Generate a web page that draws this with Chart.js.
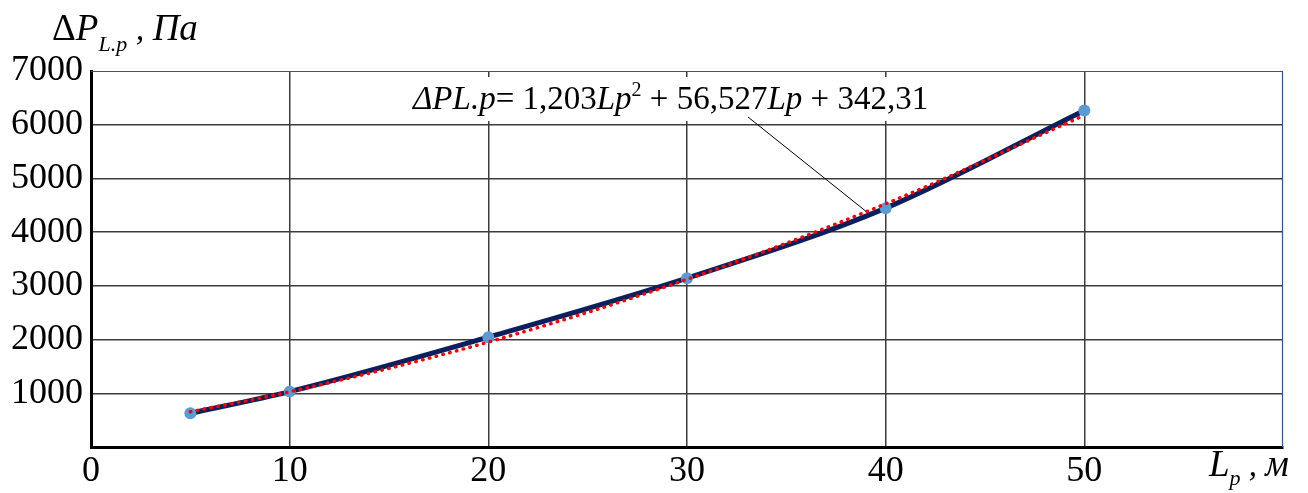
<!DOCTYPE html>
<html>
<head>
<meta charset="utf-8">
<script src="https://cdn.jsdelivr.net/npm/chart.js@4"></script>
<style>
  html, body { margin: 0; padding: 0; background: #fff; }
  canvas { display: block; }
</style>
</head>
<body>
<canvas id="chart" width="1308" height="493"></canvas>
<script>
// measured pressure loss vs. pipe length
const lengths = [5, 10, 20, 30, 40, 50];
const pressure = [628, 1031, 2044, 3143, 4447, 6266];
// polynomial trend values at the same lengths
const trend = [655, 1028, 1954, 3121, 4528, 6176];
const xTicks = [0, 10, 20, 30, 40, 50, 60];
const yTicks = [0, 1000, 2000, 3000, 4000, 5000, 6000, 7000];

const SERIF = '"Liberation Serif", "Times New Roman", serif';
const pts = arr => lengths.map((x, i) => ({ x, y: arr[i] }));

// draws a run of text pieces one after another: [text, italic, size, dy]
function drawRuns(ctx, x, y, runs) {
  runs.forEach(([txt, italic, size, dy]) => {
    ctx.font = `${italic ? 'italic ' : ''}${size}px ${SERIF}`;
    ctx.fillText(txt, x, y + (dy || 0));
    x += ctx.measureText(txt).width;
  });
  return x;
}

const decorations = {
  id: 'decorations',
  afterDraw(chart) {
    const { ctx, chartArea: a, scales } = chart;
    ctx.save();

    // thin blue frame on top and right
    ctx.strokeStyle = '#2F5597';
    ctx.lineWidth = 1.2;
    ctx.beginPath();
    ctx.moveTo(a.left, a.top + 0.5);
    ctx.lineTo(a.right - 0.5, a.top + 0.5);
    ctx.lineTo(a.right - 0.5, a.bottom);
    ctx.stroke();

    ctx.fillStyle = '#000';
    ctx.textBaseline = 'alphabetic';
    ctx.textAlign = 'left';

    // y-axis title
    drawRuns(ctx, 52, 40, [
      ['Δ', false, 37],
      ['P', true, 37],
      ['L.p', true, 22, 11],
      [' , ', true, 34],
      ['Па', true, 37]
    ]);

    // x-axis title
    drawRuns(ctx, 1209, 476, [
      ['L', true, 37],
      ['p', true, 22, 9],
      [' , ', true, 33],
      ['м', true, 37]
    ]);

    // trendline equation label with white box
    ctx.fillStyle = '#fff';
    ctx.fillRect(405, 77, 545, 44);
    ctx.fillStyle = '#000';
    drawRuns(ctx, 413, 109, [
      ['ΔPL.p', true, 33],
      ['= 1,203', false, 33],
      ['Lp', true, 33],
      ['2', false, 20, -13],
      [' + 56,527', false, 33],
      ['Lp', true, 33],
      [' + 342,31', false, 33]
    ]);

    // leader from label to the trendline
    ctx.strokeStyle = '#000';
    ctx.lineWidth = 1;
    ctx.beginPath();
    ctx.moveTo(748, 117);
    ctx.lineTo(scales.x.getPixelForValue(39), scales.y.getPixelForValue(4390));
    ctx.stroke();

    ctx.restore();
  }
};

const gridColor = (ctx, hide) =>
  hide.includes(ctx.tick && ctx.tick.value) ? 'rgba(0,0,0,0)' : '#3c3c3c';

new Chart(document.getElementById('chart'), {
  type: 'scatter',
  data: {
    datasets: [
      {
        label: 'Тренд',
        data: pts(trend),
        showLine: true,
        borderColor: '#FF0000',
        borderWidth: 3.5,
        borderDash: [0.5, 6.5],
        borderCapStyle: 'round',
        cubicInterpolationMode: 'monotone',
        pointRadius: 0,
        order: 0
      },
      {
        label: 'Точки',
        data: pts(pressure),
        showLine: false,
        pointRadius: 6,
        pointBackgroundColor: '#5B9BD5',
        pointBorderWidth: 0,
        order: 1
      },
      {
        label: 'ΔP',
        data: pts(pressure),
        showLine: true,
        borderColor: '#0A1F5C',
        borderWidth: 5,
        cubicInterpolationMode: 'monotone',
        pointRadius: 0,
        order: 2
      }
    ]
  },
  options: {
    responsive: false,
    devicePixelRatio: 1,
    animation: false,
    layout: { padding: { top: 71, right: 25, left: 0, bottom: 0 } },
    plugins: { legend: { display: false }, tooltip: { enabled: false } },
    scales: {
      x: {
        type: 'linear',
        min: xTicks[0],
        max: xTicks[xTicks.length - 1],
        afterBuildTicks: s => { s.ticks = xTicks.map(v => ({ value: v })); },
        afterFit: s => { s.height = 46; },
        ticks: {
          color: '#000',
          font: { family: SERIF, size: 36 },
          padding: 3,
          maxRotation: 0,
          callback: v => (v === 60 ? '' : v)
        },
        grid: { color: c => gridColor(c, [0, 60]), lineWidth: 1.5, drawTicks: false },
        border: { color: '#000', width: 3 }
      },
      y: {
        min: yTicks[0],
        max: yTicks[yTicks.length - 1],
        afterBuildTicks: s => { s.ticks = yTicks.map(v => ({ value: v })); },
        afterFit: s => { s.width = 91; },
        ticks: {
          color: '#000',
          font: { family: SERIF, size: 36 },
          padding: 8,
          callback: v => (v === 0 ? '' : v)
        },
        grid: { color: c => gridColor(c, [0, 7000]), lineWidth: 1.5, drawTicks: false },
        border: { color: '#000', width: 3 }
      }
    }
  },
  plugins: [decorations]
});
</script>
</body>
</html>
